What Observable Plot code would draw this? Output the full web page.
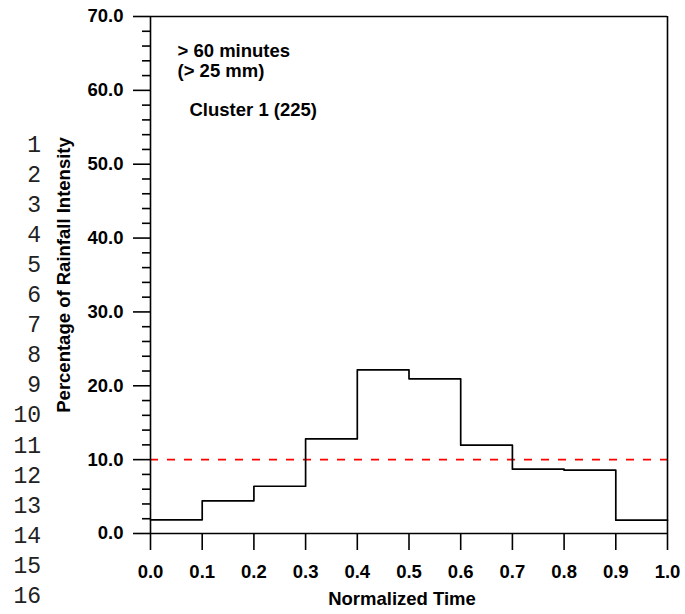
<!DOCTYPE html>
<html><head><meta charset="utf-8">
<script src="https://cdn.jsdelivr.net/npm/d3@7"></script>
<script src="https://cdn.jsdelivr.net/npm/@observablehq/plot@0.6"></script>
<style>
html,body{margin:0;padding:0;background:#fff;}
#wrap{position:relative;width:685px;height:614px;overflow:hidden;background:#fff;}
#wrap svg{position:absolute;left:0;top:0;}
</style></head><body>
<div id="wrap"></div>
<script>
// ---- data ----
const binEdges = [0.0, 0.1, 0.2, 0.3, 0.4, 0.5, 0.6, 0.7, 0.8, 0.9, 1.0];
const intensity = [1.85, 4.43, 6.4, 12.8, 22.16, 20.94, 11.96, 8.71, 8.57, 1.8];
const referenceLevel = [10];
const xTicks = [0.0, 0.1, 0.2, 0.3, 0.4, 0.5, 0.6, 0.7, 0.8, 0.9, 1.0];
const yMajorTicks = [0, 10, 20, 30, 40, 50, 60, 70];
const yMinorTicks = [2, 4, 6, 8, 12, 14, 16, 18, 22, 24, 26, 28, 32, 34, 36, 38, 42, 44, 46, 48, 52, 54, 56, 58, 62, 64, 66, 68];
const lineNumbers = [1, 2, 3, 4, 5, 6, 7, 8, 9, 10, 11, 12, 13, 14, 15, 16];
const annotationLines = ["> 60 minutes", "(> 25 mm)"];
const clusterLabel = "Cluster 1 (225)";
const xLabel = "Normalized Time";
const yLabel = "Percentage of Rainfall Intensity";

// step points: each bin start with its value, plus the final edge repeating the last value
const stepData = binEdges.map((x, i) => ({x, y: intensity[Math.min(i, intensity.length - 1)]}));

const fmt = d => d.toFixed(1);
const font = "'Liberation Sans', Arial, sans-serif";

const chart = Plot.plot({
  width: 685,
  height: 614,
  marginLeft: 150,
  marginRight: 18,
  marginTop: 16,
  marginBottom: 81,
  x: {domain: d3.extent(xTicks)},
  y: {domain: d3.extent(yMajorTicks)},
  style: {fontFamily: font, fontSize: "18.5px", fontWeight: "bold", color: "#000", background: "transparent", overflow: "visible"},
  marks: [
    Plot.ruleY(referenceLevel, {stroke: "#ff0000", strokeWidth: 1.6, strokeDasharray: "8,9"}),
    Plot.line(stepData, {x: "x", y: "y", curve: "step-after", stroke: "#000", strokeWidth: 1.7}),
    Plot.ruleY(d3.extent(yMajorTicks), {stroke: "#000", strokeWidth: 1.6}),
    Plot.ruleX(d3.extent(xTicks), {stroke: "#000", strokeWidth: 1.6}),
    Plot.axisY({ticks: yMajorTicks, tickSize: 17, tickPadding: 10, tickFormat: fmt, label: null, strokeWidth: 1.6}),
    Plot.axisY({ticks: yMinorTicks, tickSize: 8, tickFormat: () => "", label: null, strokeWidth: 1.6}),
    Plot.axisX({ticks: xTicks, tickSize: 17, tickPadding: 14, tickFormat: fmt, label: null, strokeWidth: 1.6}),
    Plot.text([yLabel], {text: d => d, frameAnchor: "left", rotate: -90, dx: -86, lineAnchor: "middle", textAnchor: "middle", fontSize: 18.5, fontWeight: "bold"}),
    Plot.text([xLabel], {text: d => d, frameAnchor: "bottom", dx: -7, dy: 65.5, lineAnchor: "middle", textAnchor: "middle", fontSize: 18.5, fontWeight: "bold"}),
    Plot.text([annotationLines.join("\n")], {text: d => d, frameAnchor: "top-left", dx: 27, dy: 26, textAnchor: "start", lineAnchor: "top", lineHeight: 1.1, fontSize: 18.5, fontWeight: "bold"}),
    Plot.text([clusterLabel], {text: d => d, frameAnchor: "top-left", dx: 39, dy: 86, textAnchor: "start", lineAnchor: "top", fontSize: 18.5, fontWeight: "bold"})
  ]
});

const wrap = document.getElementById("wrap");
wrap.appendChild(chart);

// line-number gutter
const gutter = d3.select(wrap).append("svg")
  .attr("width", 685).attr("height", 614)
  .style("pointer-events", "none");
gutter.selectAll("text")
  .data(lineNumbers)
  .join("text")
  .attr("x", 41)
  .attr("y", (d, i) => 144.5 + i * 30.1 + 7)
  .attr("text-anchor", "end")
  .attr("font-family", "'Liberation Mono', 'Courier New', monospace")
  .attr("font-size", 23)
  .attr("fill", "#222")
  .text(d => d);
</script>
</body></html>
